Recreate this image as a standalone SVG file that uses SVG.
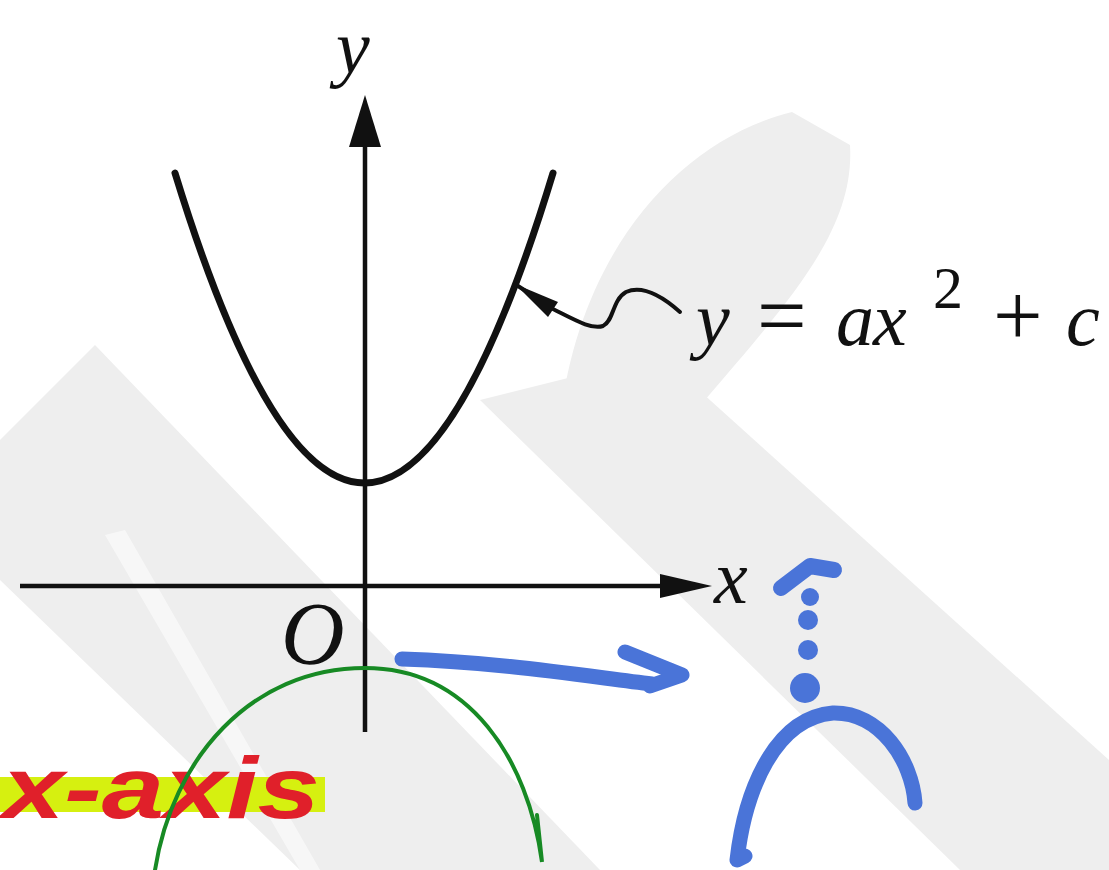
<svg xmlns="http://www.w3.org/2000/svg" width="1109" height="870" viewBox="0 0 1109 870">
  <style>
    .wm { fill: #eeeeee; }
    .ax { stroke: #111; stroke-width: 4.5; fill: none; }
    .math { font-family: "Liberation Serif", "Times New Roman", serif; font-style: italic; fill: #111; font-size: 76px; }
    .mathup { font-family: "Liberation Serif", "Times New Roman", serif; fill: #111; font-size: 88px; }
    .blue { stroke: #4a74d8; stroke-linecap: round; stroke-linejoin: round; fill: none; }
    .green { stroke: #178a24; stroke-width: 4; fill: none; stroke-linecap: round; }
  </style>
  <rect width="1109" height="870" fill="#ffffff"/>

  <!-- watermark -->
  <g id="watermark">
    <polygon class="wm" points="0,440 95,345 600,870 300,870 0,580"/>
    <polygon class="wm" points="480,400 660,355 1109,760 1109,870 960,870"/>
    <path class="wm" d="M560,420 C580,250 680,140 792,112 L850,145 C855,230 790,300 705,400 Z"/>
    <polygon points="105,535 125,530 320,870 300,870" fill="#ffffff" opacity="0.55"/>
  </g>

  <!-- axes -->
  <g id="axes">
    <line class="ax" x1="365" y1="140" x2="365" y2="732"/>
    <polygon points="365,95 381,147 349,147" fill="#111"/>
    <line class="ax" x1="20" y1="586" x2="665" y2="586"/>
    <polygon points="712,586 660,574 660,598" fill="#111"/>
    <text class="math" x="336" y="73">y</text>
    <text class="math" x="714" y="603">x</text>
    <text class="math" x="281" y="663" style="font-size:88px">O</text>
  </g>

  <!-- parabola -->
  <g id="parabola">
    <path d="M175,173 Q365,793 553,173" stroke="#111" stroke-width="7" fill="none" stroke-linecap="round"/>
  </g>

  <!-- callout -->
  <g id="callout">
    <path d="M515,284 L553,309 C575,320 592,330 603,326 C614,321 612,300 626,292 C642,285 662,296 680,312" stroke="#111" stroke-width="4" fill="none" stroke-linecap="round"/>
    <polygon points="515,284 558,302 548,317" fill="#111"/>
    <text class="math" x="696" y="345">y</text>
    <text class="mathup" x="757" y="345">=</text>
    <text class="math" x="836" y="345">a</text>
    <text class="math" x="873" y="345">x</text>
    <text class="mathup" x="933" y="308" style="font-size:60px">2</text>
    <text class="mathup" x="993" y="345">+</text>
    <text class="math" x="1066" y="345">c</text>
  </g>

  <!-- annotations -->
  <g id="annotation-xaxis">
    <rect x="0" y="777" width="325" height="35" fill="#d6f010"/>
    <text x="2" y="818" textLength="318" lengthAdjust="spacingAndGlyphs" font-family="Liberation Sans, Arial, sans-serif" font-weight="bold" font-style="italic" font-size="88" fill="#e0202a">x-axis</text>
  </g>

  <g id="green-arc">
    <path class="green" d="M155,870 C172,760 250,668 365,668 C470,668 528,760 542,862 L537,815"/>
  </g>

  <g id="blue-arrow">
    <path class="blue" stroke-width="15" d="M402,659 C500,662 585,676 652,684 M625,652 L682,675 L650,686"/>
  </g>

  <g id="blue-sketch">
    <path class="blue" stroke-width="15" d="M745,856 L737,860 C745,790 775,718 833,713 C880,712 912,760 915,803"/>
    <circle cx="805" cy="688" r="15" fill="#4a74d8"/>
    <circle cx="808" cy="650" r="10" fill="#4a74d8"/>
    <circle cx="808" cy="620" r="10" fill="#4a74d8"/>
    <circle cx="810" cy="597" r="9" fill="#4a74d8"/>
    <path class="blue" stroke-width="16" d="M781,588 L810,566 L834,570"/>
  </g>
</svg>
